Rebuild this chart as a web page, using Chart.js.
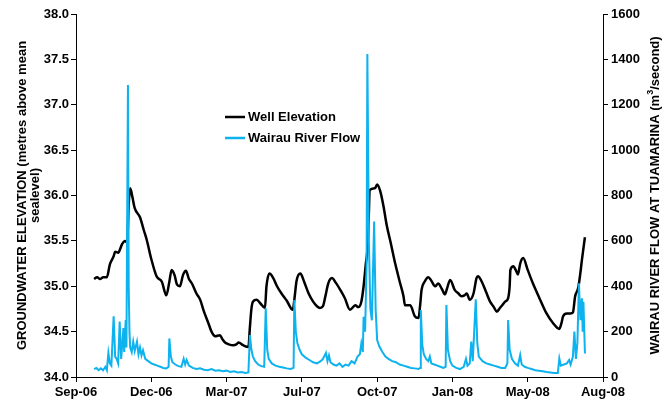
<!DOCTYPE html>
<html>
<head>
<meta charset="utf-8">
<script src="https://cdn.jsdelivr.net/npm/chart.js@4"></script>
<style>
body{margin:0;background:#fff}
#wrap{width:665px;height:403px}
</style>
</head>
<body>
<div id="wrap"><canvas id="chart" width="665" height="403"></canvas></div>
<script>
// days counted from 10 Sep 2006, ticks every 100 days
const startYear = 2006, startMonth = 8, startDay = 10
const monthNames = ["Jan","Feb","Mar","Apr","May","Jun","Jul","Aug","Sep","Oct","Nov","Dec"]

const wellDays = [24,28,32,36,41,45,50,52,56,61,65,68,70,72,75,78,85,90,94,100,107,114,120,124,127,131,134,138,142,146,150,154,160,165,170,176,180,185,191,195,198,203,209,213,216,222,229,231,233,235,240,245,251,253,257,262,267,273,280,288,290,293,298,303,309,315,320,324,328,331,335,340,345,351,357,364,371,375,379,382,385,387,389,390,397,400,404,408,413,418,424,430,435,437,444,450,455,457,459,463,468,472,477,481,486,490,493,497,503,508,512,516,519,523,528,532,534,539,545,550,555,559,563,567,570,574,576,577,581,584,587,590,594,600,607,615,625,634,642,645,647,652,657,660,663,667,670,672,676]
const wellLevel = [35.08,35.10,35.08,35.10,35.10,35.24,35.33,35.38,35.37,35.46,35.50,35.48,35.90,36.08,35.98,35.86,35.76,35.62,35.51,35.30,35.11,35.05,34.90,35.05,35.18,35.12,35.02,35.00,35.12,35.17,35.08,35.03,34.92,34.85,34.72,34.59,34.50,34.45,34.46,34.41,34.38,34.36,34.35,34.36,34.38,34.35,34.33,34.55,34.75,34.83,34.85,34.81,34.76,35.00,35.14,35.09,35.00,34.92,34.84,34.74,34.85,35.06,35.14,35.05,34.92,34.83,34.78,34.76,34.78,34.88,35.03,35.09,35.04,34.96,34.87,34.74,34.79,34.77,34.83,35.00,35.25,35.40,35.80,36.06,36.08,36.12,36.05,35.90,35.66,35.48,35.25,35.05,34.89,34.79,34.79,34.67,34.65,34.78,34.96,35.05,35.10,35.06,35.00,35.03,34.97,34.91,34.98,35.07,34.96,34.92,34.89,34.90,34.92,34.85,34.92,35.09,35.11,35.05,34.93,34.83,34.77,34.72,34.76,34.80,34.83,34.87,35.00,35.18,35.22,35.18,35.13,35.25,35.31,35.18,35.03,34.88,34.70,34.59,34.53,34.60,34.67,34.70,34.70,34.71,34.89,34.98,35.15,35.29,35.54]

const flowDays = [24,27,30,33,36,39,41,43,45,47,50,52,54,56,58,60,63,64,66,67,69,70,71,72,74,76,78,81,83,85,87,89,92,96,100,104,108,112,116,120,123,124,126,128,132,136,140,143,145,147,150,155,160,165,170,175,180,185,190,195,200,205,210,215,220,225,229,231,233,235,238,242,246,250,252,254,256,260,265,270,275,280,285,289,290,292,294,297,300,305,310,315,320,325,328,332,334,336,338,342,346,350,354,358,362,366,370,374,377,379,381,382,384,386,387,389,391,393,396,398,400,403,407,411,415,420,425,430,435,440,445,450,455,457,458,460,462,465,468,470,472,476,480,484,488,491,492,494,497,500,505,510,515,518,520,523,525,527,531,533,535,540,545,550,555,560,565,570,573,574,576,579,583,587,590,592,596,600,605,610,615,620,625,630,635,640,642,644,648,652,655,657,660,662,664,666,668,670,672,673,674,676]
const flowRate = [35,40,30,38,30,45,30,106,60,50,268,90,80,60,244,80,216,110,251,130,1287,400,200,130,110,156,115,156,100,130,95,118,80,70,60,55,50,45,40,38,45,170,90,65,55,48,45,80,55,75,50,40,35,38,32,30,35,28,30,25,28,22,25,20,22,18,20,185,120,90,70,55,48,45,303,120,80,60,50,45,42,38,35,40,339,200,150,120,100,85,75,65,60,70,80,106,70,95,65,55,50,60,45,55,50,70,60,90,100,148,110,266,200,500,1424,600,300,250,685,300,163,134,110,90,80,70,65,55,50,45,40,38,35,40,295,140,100,80,70,90,60,55,50,45,40,45,317,120,70,50,40,35,45,80,50,60,156,70,342,150,90,70,60,55,50,45,40,40,60,251,120,80,60,50,97,55,45,40,35,30,28,25,22,20,18,18,82,50,55,60,75,55,90,200,80,150,413,250,347,200,332,104]

const yTicks = {min:34, max:38, step:0.5}
const y2Ticks = {min:0, max:1600, step:200}

const font = "'Liberation Sans', Arial, sans-serif"

function dayLabel(v){
let d = new Date(startYear, startMonth, startDay + v)
return monthNames[d.getMonth()] + "-" + String(d.getFullYear()).slice(2)
}

function axisGrid(){
return {drawOnChartArea:false, color:"#000", tickLength:5, tickColor:"#000"}
}

const legendInside = {
id:"legendInside",
afterDraw(chart){
const ctx = chart.ctx, a = chart.chartArea
const x = a.left + 149, y0 = a.top + 103
chart.data.datasets.forEach((ds,i)=>{
let y = y0 + i*21
ctx.save()
ctx.strokeStyle = ds.borderColor
ctx.lineWidth = 2.5
ctx.beginPath()
ctx.moveTo(x,y)
ctx.lineTo(x+20,y)
ctx.stroke()
ctx.fillStyle = "#000"
ctx.font = "bold 13px " + font
ctx.textBaseline = "middle"
ctx.fillText(ds.label, x+23, y)
ctx.restore()
})
}
}

// right axis title reads bottom-to-top like the left one
const rightTitle = {
id:"rightTitle",
afterDraw(chart){
const ctx = chart.ctx, a = chart.chartArea
ctx.save()
ctx.translate(655, (a.top + a.bottom)/2)
ctx.rotate(-Math.PI/2)
ctx.fillStyle = "#000"
ctx.textBaseline = "middle"
ctx.textAlign = "left"
let p1 = "WAIRAU RIVER FLOW AT TUAMARINA (m", p2 = "3", p3 = "/second)"
ctx.font = "bold 13px " + font
let w1 = ctx.measureText(p1).width, w3 = ctx.measureText(p3).width
ctx.font = "bold 9px " + font
let w2 = ctx.measureText(p2).width
let sx = -(w1 + w2 + w3)/2
ctx.font = "bold 13px " + font
ctx.fillText(p1, sx, 0)
ctx.font = "bold 9px " + font
ctx.fillText(p2, sx + w1, -4)
ctx.font = "bold 13px " + font
ctx.fillText(p3, sx + w1 + w2, 0)
ctx.restore()
}
}

new Chart(document.getElementById("chart"), {
type:"line",
data:{
datasets:[
{
label:"Well Elevation",
data:wellDays.map((d,i)=>({x:d, y:wellLevel[i]})),
borderColor:"#000000",
borderWidth:2.5,
pointRadius:0,
cubicInterpolationMode:"monotone",
yAxisID:"y",
order:2
},
{
label:"Wairau River Flow",
data:flowDays.map((d,i)=>({x:d, y:flowRate[i]})),
borderColor:"#0DB2EE",
borderWidth:2,
pointRadius:0,
tension:0,
yAxisID:"y2",
order:1
}
]
},
options:{
responsive:false,
animation:false,
layout:{padding:{top:14, left:0, right:0, bottom:0}},
plugins:{legend:{display:false}, tooltip:{enabled:false}},
scales:{
x:{
type:"linear",
min:0, max:700,
grid:axisGrid(),
border:{color:"#000", width:1},
ticks:{stepSize:100, callback:dayLabel, color:"#000", font:{family:font, size:13, weight:"bold"}, maxRotation:0, padding:3},
afterFit(s){ s.height = 26 }
},
y:{
position:"left",
min:yTicks.min, max:yTicks.max,
grid:axisGrid(),
border:{color:"#000", width:1},
ticks:{stepSize:yTicks.step, callback:v=>v.toFixed(1), color:"#000", font:{family:font, size:13, weight:"bold"}, padding:2},
title:{display:true, text:["GROUNDWATER ELEVATION (metres above mean","sealevel)"], color:"#000", font:{family:font, size:13, weight:"bold", lineHeight:1.0}, padding:{top:16, bottom:0}},
afterFit(s){ s.width = 76 }
},
y2:{
position:"right",
min:y2Ticks.min, max:y2Ticks.max,
grid:axisGrid(),
border:{color:"#000", width:1},
ticks:{stepSize:y2Ticks.step, callback:v=>String(v), color:"#000", font:{family:font, size:13, weight:"bold"}, padding:3},
afterFit(s){ s.width = 62 }
}
}
},
plugins:[legendInside, rightTitle]
})
</script>
</body>
</html>
